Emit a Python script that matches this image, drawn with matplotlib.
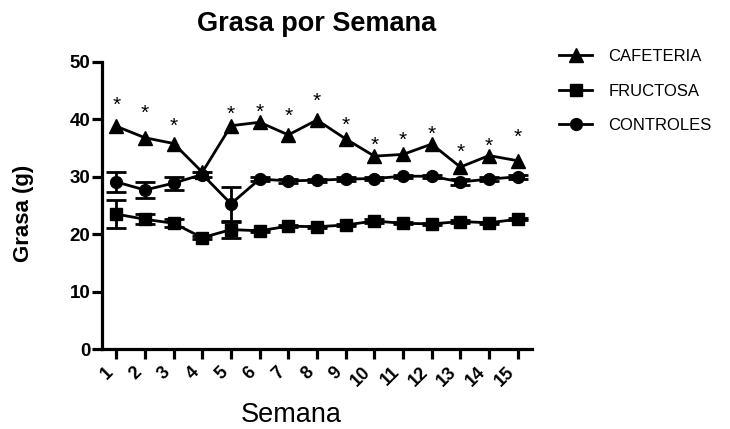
import matplotlib
matplotlib.use("Agg")
import matplotlib.pyplot as plt
from matplotlib.lines import Line2D

plt.rcParams['font.family'] = ['Liberation Sans', 'DejaVu Sans']

# Weekly fat mass (g), mean and SEM per group
weeks = list(range(1, 16))
week_labels = [str(w) for w in weeks]

cafeteria = [38.8, 36.8, 35.8, 30.8, 38.9, 39.5, 37.3, 39.9, 36.6, 33.6, 33.9, 35.7, 31.7, 33.7, 32.8]

fructosa = [23.5, 22.6, 21.9, 19.4, 20.8, 20.6, 21.4, 21.3, 21.6, 22.3, 21.9, 21.8, 22.2, 22.0, 22.6]
fructosa_sem = [2.4, 0.9, 0.7, 0.3, 1.4, 0.2, 0.2, 0.2, 0.2, 0.3, 0.2, 0.2, 0.3, 0.2, 0.2]

controles = [29.1, 27.7, 28.9, 30.4, 25.3, 29.6, 29.3, 29.4, 29.6, 29.7, 30.1, 30.1, 29.1, 29.6, 30.0]
controles_sem = [1.7, 1.45, 1.15, 0.4, 3.0, 0.3, 0.3, 0.3, 0.3, 0.3, 0.3, 0.3, 0.6, 0.3, 0.3]

# Significance marks (week, height in g)
sig_weeks = [1, 2, 3, 5, 6, 7, 8, 9, 10, 11, 12, 13, 14, 15]
sig_heights = [43.5, 42.0, 39.8, 41.8, 42.2, 41.5, 44.2, 40.0, 36.5, 37.3, 38.4, 35.2, 36.3, 37.9]

series_names = ['CAFETERIA', 'FRUCTOSA', 'CONTROLES']

fig = plt.figure(figsize=(7.30, 4.29), dpi=100)
ax = fig.add_axes([102 / 730, 1 - 349 / 429, 430 / 730, 287 / 429])

lw = 2.0
common = dict(color='black', ecolor='black', elinewidth=2.0, capsize=7,
              capthick=2.0, linewidth=lw, clip_on=False)
ax.plot(weeks, cafeteria, color='black', linewidth=lw, marker='^', markersize=9.5,
        zorder=3, clip_on=False)
ax.errorbar(weeks, fructosa, yerr=fructosa_sem, marker='s', markersize=8, zorder=4, **common)
ax.errorbar(weeks, controles, yerr=controles_sem, marker='o', markersize=8.5, zorder=5, **common)

for w, h in zip(sig_weeks, sig_heights):
    ax.annotate('*', xy=(w, h), xytext=(0, -8), textcoords='offset points',
                ha='center', va='baseline', fontsize=15, color='black')

ax.set_xlim(0.5, 15.5)
ax.set_ylim(0, 50)
ax.set_yticks([0, 10, 20, 30, 40, 50])
ax.set_xticks(weeks)
ax.set_xticklabels(week_labels, rotation=45, ha='right', va='top',
                   fontsize=13, fontweight='bold')
for t in ax.get_yticklabels():
    t.set_fontsize(13.5)
    t.set_fontweight('bold')

for s in ['top', 'right']:
    ax.spines[s].set_visible(False)
for s in ['left', 'bottom']:
    ax.spines[s].set_linewidth(2.3)
    ax.spines[s].set_capstyle('projecting')
ax.tick_params(axis='both', direction='out', length=7, width=2.3, color='black')
ax.tick_params(axis='y', pad=1.5)
ax.tick_params(axis='x', pad=3.5)

fig.text(317 / 730, 1 - 31 / 429, 'Grasa por Semana', ha='center', va='baseline',
         fontsize=19.5, fontweight='bold')
fig.text(291 / 730, 1 - 421.5 / 429, 'Semana', ha='center', va='baseline', fontsize=19.5)
fig.text(24 / 730, 1 - 213 / 429, 'Grasa (g)', ha='center', va='center',
         rotation=90, fontsize=16, fontweight='bold')

handles = [
    Line2D([], [], color='black', linewidth=lw, marker='^', markersize=9.5),
    Line2D([], [], color='black', linewidth=lw, marker='s', markersize=8),
    Line2D([], [], color='black', linewidth=lw, marker='o', markersize=8.5),
]
fig.legend(handles, series_names, loc='upper left', bbox_to_anchor=(559 / 730, 1 - 49 / 429),
           frameon=False, fontsize=12, handlelength=2.0, handletextpad=0.95,
           labelspacing=1.17, borderpad=0, borderaxespad=0, numpoints=1)

fig.savefig('out.png', dpi=100)
